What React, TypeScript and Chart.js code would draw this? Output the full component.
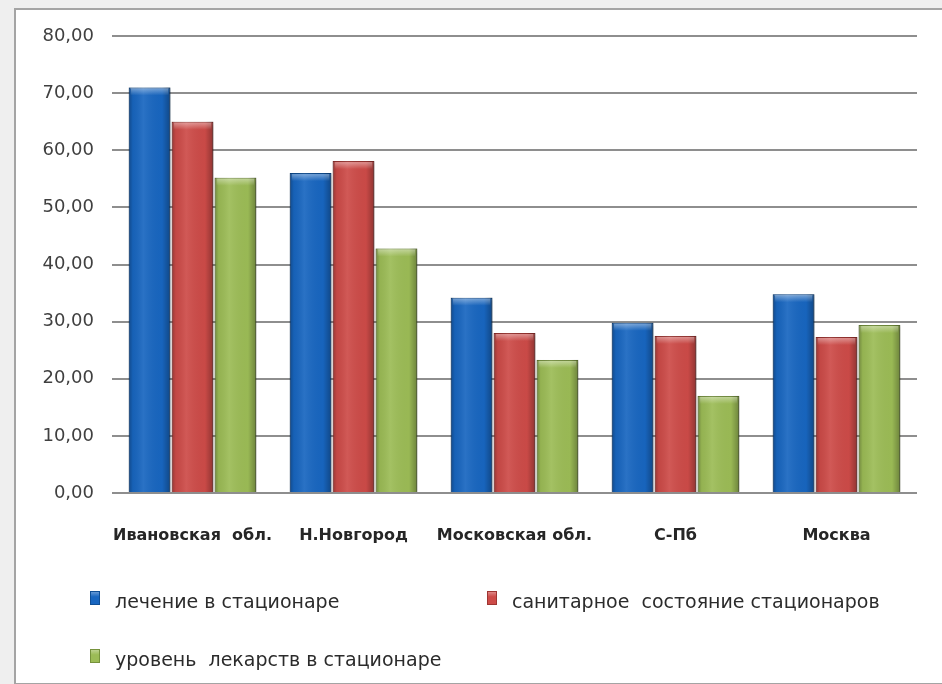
import React, { useEffect, useRef } from 'react';
import { Chart, registerables } from 'chart.js';

Chart.register(...registerables);

const categories = ['Ивановская  обл.', 'Н.Новгород', 'Московская обл.', 'С-Пб', 'Москва'];
const seriesNames = [
  'лечение в стационаре',
  'санитарное  состояние стационаров',
  'уровень  лекарств в стационаре',
];
const treatment = [71.0, 56.0, 34.2, 29.8, 34.8];
const sanitary = [65.0, 58.1, 28.0, 27.5, 27.3];
const medicines = [55.2, 42.8, 23.3, 17.0, 29.4];
const yTickLabels = ['0,00', '10,00', '20,00', '30,00', '40,00', '50,00', '60,00', '70,00', '80,00'];
const seriesColors = ['#1866c0', '#cd4b48', '#9cbc56'];
const seriesBorders = ['#0f4f96', '#9e3532', '#76923c'];

const W = 942;
const H = 684;

const bevelPlugin = {
  id: 'bevel',
  beforeDatasetDraw(chart: any) {
    const ctx = chart.ctx;
    ctx.save();
    ctx.shadowColor = 'rgba(0,0,0,0.35)';
    ctx.shadowBlur = 4;
    ctx.shadowOffsetX = 2;
    ctx.shadowOffsetY = 1;
  },
  afterDatasetDraw(chart: any, args: any) {
    const ctx = chart.ctx;
    ctx.restore();
    const meta = args.meta;
    meta.data.forEach((el: any) => {
      const left = el.x - el.width / 2;
      const right = el.x + el.width / 2;
      const top = Math.min(el.y, el.base);
      const bottom = Math.max(el.y, el.base);
      const g = ctx.createLinearGradient(left, 0, right, 0);
      g.addColorStop(0, 'rgba(0,0,0,0.28)');
      g.addColorStop(0.1, 'rgba(0,0,0,0.05)');
      g.addColorStop(0.35, 'rgba(255,255,255,0.08)');
      g.addColorStop(0.8, 'rgba(0,0,0,0.02)');
      g.addColorStop(1, 'rgba(0,0,0,0.3)');
      ctx.save();
      ctx.fillStyle = g;
      ctx.fillRect(left, top, right - left, bottom - top);
      const cap = ctx.createLinearGradient(0, top, 0, top + 8);
      cap.addColorStop(0, 'rgba(255,255,255,0.45)');
      cap.addColorStop(1, 'rgba(255,255,255,0)');
      ctx.fillStyle = cap;
      ctx.fillRect(left + 2, top + 1, right - left - 4, 8);
      ctx.restore();
    });
  },
};

export default function App() {
  const ref = useRef<HTMLCanvasElement | null>(null);

  useEffect(() => {
    if (!ref.current) return;
    const chart = new Chart(ref.current, {
      type: 'bar',
      data: {
        labels: categories,
        datasets: [treatment, sanitary, medicines].map((d, i) => ({
          label: seriesNames[i],
          data: d,
          backgroundColor: seriesColors[i],
          borderColor: seriesBorders[i],
          borderWidth: 1,
          categoryPercentage: 0.8,
          barPercentage: 0.97,
        })),
      },
      options: {
        responsive: false,
        animation: false,
        layout: { padding: { left: 0, right: 25, top: 36, bottom: 0 } },
        plugins: {
          legend: { display: false },
          tooltip: { enabled: false },
        },
        scales: {
          x: {
            grid: { display: false, drawTicks: false },
            border: { display: false },
            ticks: {
              padding: 33,
              color: '#262626',
              font: { family: 'DejaVu Sans', size: 16, weight: 'bold' },
              maxRotation: 0,
              autoSkip: false,
            },
            afterFit(scale: any) {
              scale.height = 191;
            },
          },
          y: {
            min: 0,
            max: 80,
            grid: { color: '#8e8e8e', lineWidth: 2, drawTicks: false },
            border: { display: false },
            ticks: {
              stepSize: 10,
              padding: 18,
              color: '#404040',
              font: { family: 'DejaVu Sans', size: 18 },
              callback: (_v: any, i: number) => yTickLabels[i],
            },
            afterFit(scale: any) {
              scale.width = 112;
            },
          },
        },
      },
      plugins: [bevelPlugin],
    });
    return () => chart.destroy();
  }, []);

  const legendPos = [
    { left: 90, cy: 601 },
    { left: 487, cy: 601 },
    { left: 90, cy: 659 },
  ];

  return (
    <div style={{ position: 'fixed', left: 0, top: 0, width: W, height: H, background: '#efefef', overflow: 'hidden' }}>
      <div
        style={{
          position: 'absolute',
          left: 14,
          top: 8,
          width: 940,
          height: 673,
          border: '2px solid #a4a4a4',
          background: '#ffffff',
        }}
      />
      <canvas ref={ref} width={W} height={H} style={{ position: 'absolute', left: 0, top: 0, width: W, height: H }} />
      {seriesNames.map((name, i) => (
        <div
          key={name}
          style={{
            position: 'absolute',
            left: legendPos[i].left,
            top: legendPos[i].cy - 11,
            height: 22,
            display: 'flex',
            alignItems: 'center',
            fontFamily: 'DejaVu Sans',
            fontSize: 19,
            color: '#2b2b2b',
            whiteSpace: 'pre',
          }}
        >
          <span
            style={{
              display: 'inline-block',
              width: 8,
              height: 12,
              marginRight: 15,
              marginTop: -6,
              background: `linear-gradient(to bottom, #ffffff55, ${seriesColors[i]} 40%)`,
              backgroundColor: seriesColors[i],
              border: `1px solid ${seriesBorders[i]}`,
            }}
          />
          <span>{name}</span>
        </div>
      ))}
    </div>
  );
}
